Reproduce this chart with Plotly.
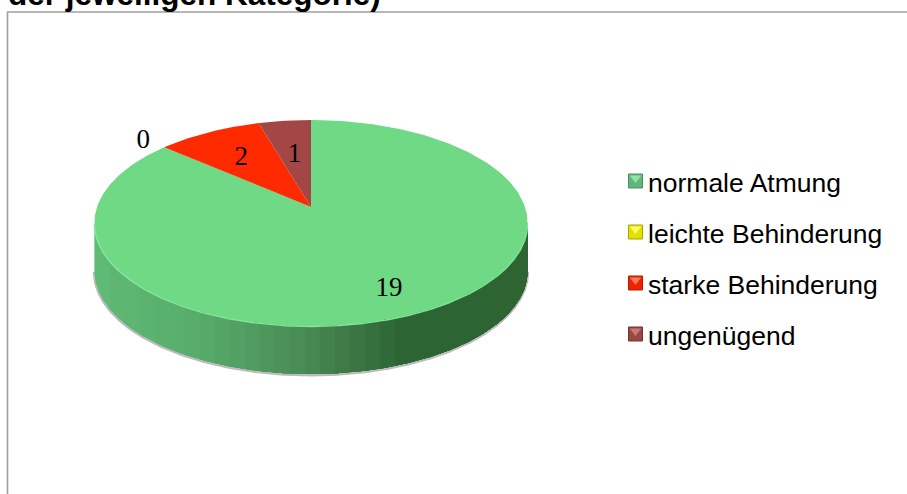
import numpy as np
import plotly.graph_objects as go

categories = ["normale Atmung", "leichte Behinderung", "starke Behinderung", "ungenügend"]
values = [19, 0, 2, 1]
colors = ["#6FD985", "#E6E600", "#FF2A00", "#A24745"]
legend_colors = ["#5FB67C", "#E4E000", "#EE2200", "#9B4644"]
legend_edges = ["#4A8F60", "#A8A400", "#B81A00", "#733331"]
legend_tops = ["#8FE3A8", "#FFFF70", "#FF7A60", "#C47C7A"]
label_radius = [0.78, 1.16, 0.655, 0.59]
title_text = "der jeweiligen Kategorie)"

W, H = 907, 494
CX, APEX_Y = 311, 207
B, A, K = 214.0, 100.5, 0.155
DEPTH = 48


def project(theta, r=1.0):
    X, Y = r * np.sin(theta), r * np.cos(theta)
    w = 1 + K * Y
    return CX + B * X / w, APEX_Y - A * Y / w


fracs = np.array(values, float) / sum(values)
edges = np.concatenate([[0], np.cumsum(fracs)]) * 2 * np.pi
fig = go.Figure()

t0 = np.arccos(-K)
t1 = 2 * np.pi - t0
front = np.linspace(t0, t1, 700)
fx, fy = project(front)
order = np.argsort(fx)
sx_all, sy_all = fx[order], fy[order]


def wall_colour(x):
    xs = [95, 200, 311, 400, 527]
    rs = [(95, 187, 117), (88, 172, 108), (72, 136, 82), (45, 101, 53), (45, 100, 50)]
    return "rgb(%d,%d,%d)" % tuple(int(np.interp(x, xs, [c[i] for c in rs])) for i in range(3))


# soft ground shadow under wall
fig.add_trace(go.Scatter(x=fx, y=fy + DEPTH + 1, mode="lines", line=dict(color="rgba(120,120,120,0.5)", width=3),
                         showlegend=False, hoverinfo="skip"))
# wall strips, drawn left to right and each one reaching to the far end so no seams show
strip_edges = np.arange(fx.min(), fx.max(), 15.0)
for a in strip_edges:
    m = sx_all >= a
    sx, sy = sx_all[m], sy_all[m]
    fig.add_trace(go.Scatter(x=np.concatenate([sx, sx[::-1]]), y=np.concatenate([sy, sy[::-1] + DEPTH]),
                             mode="lines", fill="toself", fillcolor=wall_colour(a + 7.5),
                             line=dict(width=0), showlegend=False, hoverinfo="skip"))

# top face slices
for i, v in enumerate(values):
    if v == 0:
        continue
    th = np.linspace(edges[i], edges[i + 1], 300)
    x, y = project(th)
    fig.add_trace(go.Scatter(x=np.concatenate([[CX], x, [CX]]), y=np.concatenate([[APEX_Y], y, [APEX_Y]]),
                             mode="lines", fill="toself", fillcolor=colors[i], line=dict(width=0),
                             name=categories[i], showlegend=False, hoverinfo="name"))

# rim highlight
fig.add_trace(go.Scatter(x=fx, y=fy + 0.5, mode="lines", line=dict(color="#80E898", width=1.4),
                         showlegend=False, hoverinfo="skip"))

# data labels
mids = (edges[:-1] + edges[1:]) / 2
lx, ly = zip(*[project(m, r) for m, r in zip(mids, label_radius)])
fig.add_trace(go.Scatter(x=lx, y=[v + 2.5 for v in ly], mode="text", text=[str(v) for v in values],
                         textposition="middle center",
                         textfont=dict(family="Liberation Serif", size=27, color="#000"),
                         showlegend=False, hoverinfo="skip"))

# legend
LEG_Y0, LEG_DY = 181.0, 51.0
ly = [LEG_Y0 + i * LEG_DY for i in range(len(categories))]
fig.add_trace(go.Scatter(x=[635.5] * 4, y=ly, mode="markers",
                         marker=dict(symbol="square", size=14, color=legend_colors,
                                     line=dict(color=legend_edges, width=1)),
                         showlegend=False, hoverinfo="skip"))
fig.add_trace(go.Scatter(x=[635.5] * 4, y=[v - 3 for v in ly], mode="markers",
                         marker=dict(symbol="triangle-down", size=10, color=legend_tops, line=dict(width=0)),
                         showlegend=False, hoverinfo="skip"))
fig.add_trace(go.Scatter(x=[648] * 4, y=[v + 4.5 for v in ly], mode="text", text=categories,
                         textposition="middle right",
                         textfont=dict(family="Liberation Sans", size=26.5, color="#000"),
                         showlegend=False, hoverinfo="skip"))

fig.update_layout(
    width=W, height=H, autosize=False, margin=dict(l=0, r=0, t=0, b=0),
    paper_bgcolor="white", plot_bgcolor="white",
    annotations=[dict(text="<b>%s</b>" % title_text, xref="x", yref="y", x=8, y=12, xanchor="left",
                      yanchor="bottom", showarrow=False, borderpad=0, borderwidth=0,
                      font=dict(family="Liberation Sans", size=31.5, color="#000"))],
    xaxis=dict(range=[0, W], visible=False, fixedrange=True),
    yaxis=dict(range=[H, 0], visible=False, fixedrange=True),
    shapes=[dict(type="rect", xref="x", yref="y", x0=7.5, x1=930, y0=12, y1=540,
                 line=dict(color="#A0A0A0", width=1.6), fillcolor="rgba(0,0,0,0)", layer="below")],
    showlegend=False,
)
fig.write_html("out.html", config={"displayModeBar": False},
               post_script="document.documentElement.style.overflow='hidden';document.body.style.margin='0';")
